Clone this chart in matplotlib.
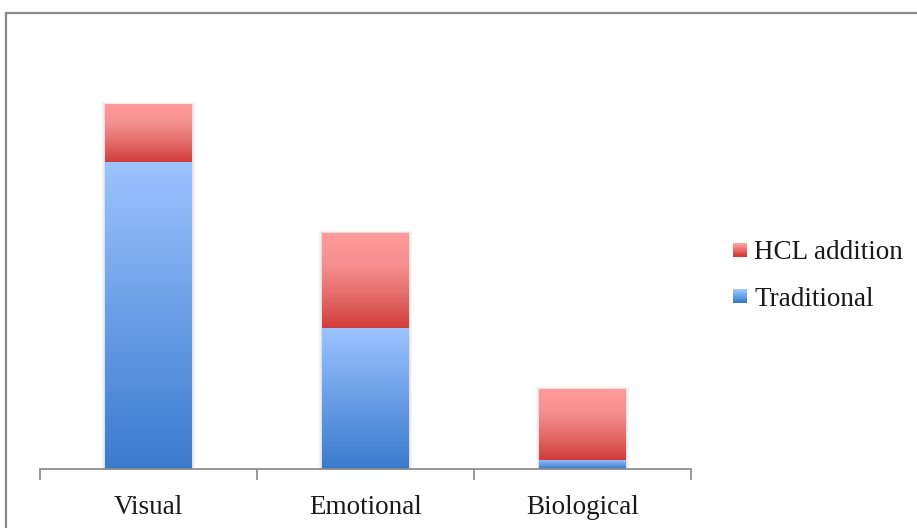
import numpy as np
import matplotlib
matplotlib.use("Agg")
import matplotlib.pyplot as plt
from matplotlib.patches import Rectangle
from matplotlib.legend_handler import HandlerBase
from matplotlib.colors import LinearSegmentedColormap

categories = ["Visual", "Emotional", "Biological"]
traditional = [32, 14.7, 0.95]
hcl_addition = [6, 9.9, 7.4]
series_names = ["HCL addition", "Traditional"]

plt.rcParams["font.family"] = ["Liberation Serif", "DejaVu Serif"]

W, H = 917, 528
fig = plt.figure(figsize=(W / 100, H / 100), dpi=100)
fig.patch.set_facecolor("white")

# plot area in pixel coordinates
left, right, base, top = 40, 691, 469, 37
ax = fig.add_axes([left / W, (H - base) / H, (right - left) / W, (base - top) / H])
ax.set_xlim(-0.5, 2.5)
ax.set_ylim(0, 45)

blue_cmap = LinearSegmentedColormap.from_list("blue", ["#3b7bcc", "#6b9ee6", "#9cc4ff"])
red_cmap = LinearSegmentedColormap.from_list("red", ["#d03d3a", "#e46a6a", "#f59090", "#ff9b9b"])

bar_w = 0.4
px_x = 1.0 / (right - left) * 3.0
px_y = 45.0 / (base - top)
grad = np.linspace(0, 1, 256).reshape(-1, 1)


def gradient_bar(x, y0, h, cmap):
    rect = Rectangle((x - bar_w / 2, y0), bar_w, h, facecolor="none", edgecolor="none")
    ax.add_patch(rect)
    im = ax.imshow(grad, cmap=cmap, origin="lower", aspect="auto",
                   extent=(x - bar_w / 2, x + bar_w / 2, y0, y0 + h), zorder=2,
                   interpolation="bilinear")
    im.set_clip_path(rect)


for i, (t, a) in enumerate(zip(traditional, hcl_addition)):
    total = t + a
    # soft drop shadow
    for k, alpha in zip(range(1, 5), [0.05, 0.035, 0.022, 0.012]):
        ax.add_patch(Rectangle((i - bar_w / 2 - k * px_x, 0), bar_w + 2 * k * px_x,
                               total + k * px_y * 0.6, facecolor="black", alpha=alpha,
                               edgecolor="none", zorder=1))
    gradient_bar(i, 0, t, blue_cmap)
    gradient_bar(i, t, a, red_cmap)

ax.set_xlim(-0.5, 2.5)
ax.set_ylim(0, 45)

for s in ["top", "right", "left"]:
    ax.spines[s].set_visible(False)
ax.spines["bottom"].set_color("#868686")
ax.spines["bottom"].set_linewidth(1.2)
ax.set_yticks([])
ax.set_xticks(range(len(categories)))
ax.set_xticklabels(categories, fontsize=19.5, color="#1a1a1a")
ax.tick_params(axis="x", which="major", length=0, pad=19)
ax.set_xticks([-0.5, 0.5, 1.5, 2.5], minor=True)
ax.tick_params(axis="x", which="minor", length=8, width=1.2, color="#868686")


class GradientHandler(HandlerBase):
    def __init__(self, colors):
        super().__init__()
        self.colors = colors

    def create_artists(self, legend, orig_handle, xdescent, ydescent, width, height,
                       fontsize, trans):
        size = width
        x0 = -xdescent
        y0 = -ydescent + (height - size) / 2
        n = 8
        cmap = LinearSegmentedColormap.from_list("c", self.colors)
        arts = []
        for k in range(n):
            arts.append(Rectangle((x0, y0 + k * size / n), size, size / n + 0.3,
                                  facecolor=cmap(k / (n - 1)), edgecolor="none",
                                  transform=trans))
        return arts


h_red = Rectangle((0, 0), 1, 1)
h_blue = Rectangle((0, 0), 1, 1)
leg = fig.legend([h_red, h_blue], series_names,
                 handler_map={h_red: GradientHandler(["#d03d3a", "#ff9b9b"]),
                              h_blue: GradientHandler(["#3b7bcc", "#9cc4ff"])},
                 loc="center left", bbox_to_anchor=(733 / W, (H - 276) / H),
                 frameon=False, fontsize=19.5, handlelength=0.5, handleheight=0.6,
                 handletextpad=0.28, labelspacing=0.78, borderpad=0, borderaxespad=0)
for t in leg.get_texts():
    t.set_color("#1a1a1a")

# outer chart frame
fig.add_artist(plt.Line2D([6 / W, 6 / W], [0, 1 - 13 / H], transform=fig.transFigure,
                          color="#8a8a8a", linewidth=1.6))
fig.add_artist(plt.Line2D([6 / W, 1], [1 - 13 / H, 1 - 13 / H], transform=fig.transFigure,
                          color="#8a8a8a", linewidth=1.6))

fig.savefig("out.png", dpi=100, facecolor="white")
